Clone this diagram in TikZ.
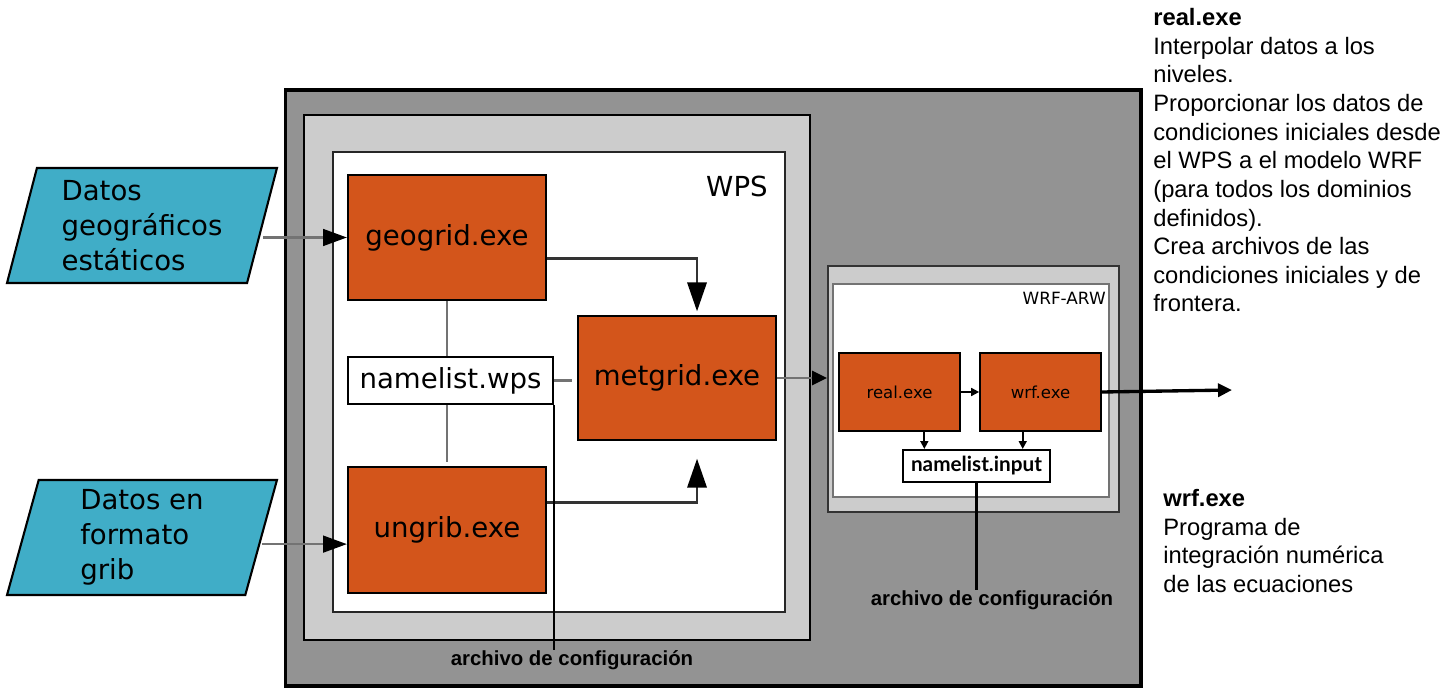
\documentclass[tikz,border=0pt]{standalone}
\usepackage{fontspec}
\usepackage{tikz}
\usetikzlibrary{arrows.meta,shapes.geometric,calc}
\newfontfamily\dejavu{DejaVu Sans}
\newfontfamily\helv{Liberation Sans}
\newfontfamily\gill{Lato}
\definecolor{wrfgray}{RGB}{147,147,147}
\definecolor{lightbox}{RGB}{204,204,204}
\definecolor{exeorange}{RGB}{211,85,27}
\definecolor{datacyan}{RGB}{64,173,199}
\definecolor{linkgray}{RGB}{115,115,115}
\tikzset{
  exebox/.style={draw, line width=1.3pt, fill=exeorange, inner sep=0pt},
  datos/.style={trapezium, trapezium left angle=71.7, trapezium right angle=108.3,
    trapezium stretches body, draw, line width=1.2pt, fill=datacyan,
    minimum height=2.3cm, minimum width=5.4cm, inner sep=0pt, align=left,
    font=\dejavu\fontsize{15.7}{19.9}\selectfont},
  feed/.style={linkgray, line width=1.3pt, -{Triangle[length=13.5pt,width=9.5pt,color=black]}},
  flow/.style={black!80, line width=1.4pt, -{Triangle[length=16.5pt,width=11pt,color=black]}},
  link/.style={linkgray, line width=1.3pt},
  tiny/.style={line width=1pt, -{Triangle[length=4.5pt,width=4.5pt]}},
  cfgtext/.style={inner sep=0pt, font=\helv\bfseries\fontsize{11.6}{14}\selectfont}
}
\begin{document}
\begin{tikzpicture}[x=0.02cm,y=-0.02cm]
\useasboundingbox (0,0) rectangle (1449,699);
%cajas
\node[draw, line width=1.8pt, fill=wrfgray, minimum width=17.12cm, minimum height=11.92cm] (model) at (713,388) {};
\node[draw, line width=1.2pt, fill=lightbox, minimum width=10.12cm, minimum height=10.5cm] (wpsout) at (557,377.5) {};
\node[draw=black!85, line width=0.9pt, fill=white, minimum width=9.04cm, minimum height=9.2cm] (wpsbox) at (559,382) {};
\node[anchor=east, inner sep=0pt, font=\dejavu\fontsize{15.7}{19}\selectfont] (wpslabel) at (768,186) {WPS};
\node[draw=black!80, line width=1.1pt, fill=lightbox, minimum width=5.82cm, minimum height=4.92cm] (wrfout) at (973.5,389) {};
\node[draw=black!55, line width=0.7pt, fill=white, minimum width=5.52cm, minimum height=4.26cm] (wrfbox) at (971,390.5) {};
\node[anchor=east, inner sep=0pt, font=\dejavu\fontsize{9.6}{12}\selectfont] (wrflabel) at (1106,298) {WRF-ARW};
%datos
\node[datos] (geo) at (142,225.5) {Datos\\geográficos\\estáticos};
\node[datos] (grib) at (142,537.5) {Datos en\\formato\\grib};
%programas
\begin{scope}[font=\dejavu\fontsize{15.7}{19}\selectfont]
\node[exebox, minimum width=3.96cm, minimum height=2.5cm] (geogrid) at (447,237.5) {geogrid.exe};
\node[exebox, minimum width=3.96cm, minimum height=2.48cm] (metgrid) at (677,378) {metgrid.exe};
\node[exebox, minimum width=3.96cm, minimum height=2.52cm] (ungrib) at (447,530) {ungrib.exe};
\node[draw, line width=1.3pt, fill=white, inner sep=0pt, minimum width=4.1cm, minimum height=0.94cm] (nwps) at (450.5,380.5) {namelist.wps};
\end{scope}
\begin{scope}[font=\dejavu\fontsize{9.4}{12}\selectfont]
\node[exebox, line width=1pt, minimum width=2.42cm, minimum height=1.56cm] (real) at (899.5,392) {real.exe};
\node[exebox, line width=1pt, minimum width=2.42cm, minimum height=1.56cm] (wrf) at (1040.5,392) {wrf.exe};
\end{scope}
\node[draw, line width=1.2pt, fill=white, inner sep=0pt, minimum width=2.94cm, minimum height=0.64cm,
  font=\gill\bfseries\fontsize{11.8}{14}\selectfont] (ninput) at (976.5,466) {namelist.input};
\node[cfgtext] (cfgwps) at (572,660) {archivo de configuración};
\node[cfgtext] (cfgwrf) at (992,600) {archivo de configuración};
\coordinate (out) at (1232,390);
%flechas
\draw[feed] (geogrid.west -| geo.east) -- (geogrid.west);
\draw[feed] ($(ungrib.west)!.22!(ungrib.south west)$) coordinate (ug) (ug -| grib.east) -- (ug);
\draw[link] (geogrid.south) -- (geogrid.south |- nwps.north);
\draw[link, shorten >=2pt] (ungrib.north |- nwps.south) -- (ungrib.north);
\draw[link, shorten >=3pt] (nwps.east) -- (nwps.east -| metgrid.west);
\coordinate (mtop) at ($(metgrid.north)!.2!(metgrid.north east)$);
\coordinate (mbot) at ($(metgrid.south)!.2!(metgrid.south east)$);
\draw[flow, shorten >=2pt] ($(geogrid.east)!.33!(geogrid.south east)$) -| (mtop);
\draw[flow, shorten >=10pt] ($(ungrib.east)!.43!(ungrib.north east)$) -| (mbot);
\draw[line width=1.2pt] (nwps.south east) -- (nwps.south east |- cfgwps.north);
\draw[feed, -{Triangle[length=8.5pt,width=8pt,color=black]}] (metgrid.east) -- (metgrid.east -| wrfout.west);
\draw[tiny] (real.east) -- (wrf.west);
\coordinate (in1) at ($(ninput.north west)!.15!(ninput.north east)$);
\coordinate (in2) at ($(ninput.north west)!.81!(ninput.north east)$);
\draw[tiny] (in1 |- real.south) -- (in1);
\draw[tiny] (in2 |- wrf.south) -- (in2);
\draw[line width=1.2pt] (ninput.south) -- (ninput.south |- cfgwrf.north);
\draw[line width=1.9pt, -{Triangle[length=8pt,width=7.5pt]}] (wrf.east) -- (out);
%textos
\node[anchor=north west, inner sep=0pt, align=left, font=\helv\fontsize{13.5}{16.3}\selectfont] (realtxt) at (1153,8)
  {\textbf{real.exe}\\Interpolar datos a los\\niveles.\\Proporcionar los datos de\\condiciones iniciales desde\\el WPS a el modelo WRF\\(para todos los dominios\\definidos).\\Crea archivos de las\\condiciones iniciales y de\\frontera.};
\node[anchor=north west, inner sep=0pt, align=left, font=\helv\fontsize{13.5}{16.3}\selectfont] (wrftxt) at (1163,489)
  {\textbf{wrf.exe}\\Programa de\\integración numérica\\de las ecuaciones};
\end{tikzpicture}
\end{document}
